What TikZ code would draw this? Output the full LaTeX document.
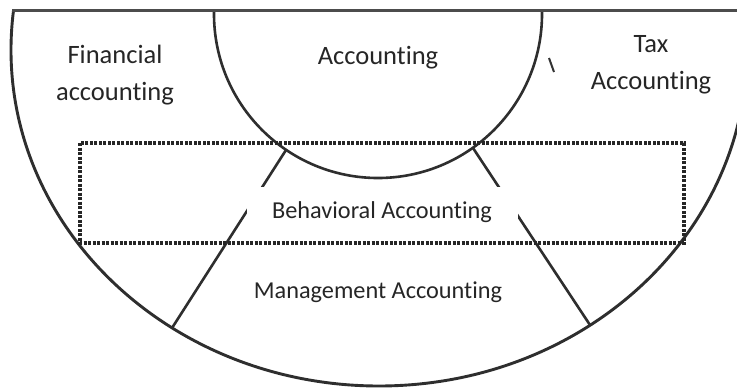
\documentclass[tikz,border=0pt]{standalone}
\usepackage{fontspec}
\setmainfont{Carlito}[Ligatures=NoCommon]
\begin{document}
\begin{tikzpicture}[x=1pt,y=-1pt,
  edge/.style={draw=black!82,line width=2.6pt},
  dotbox/.style={draw=black!85,line width=3.4pt,dash pattern=on 3pt off 1.5pt},
  lbl/.style={text=black!85,font=\fontsize{26.5}{37}\selectfont,align=center,inner sep=0pt},
  lbls/.style={lbl,font=\fontsize{24.3}{30}\selectfont},
  cover/.style={fill=white,draw=none,minimum width=271pt,minimum height=51pt,inner sep=0pt}]
\useasboundingbox[fill=white] (0,0) rectangle (737,389);
% outer half ellipse and inner half circle
\begin{scope}
  \clip (0,10) rectangle (737,389);
  \draw[edge,line width=2.9pt] (379,50) ellipse [x radius=368, y radius=336];
  \draw[edge] (378,14) circle [radius=164];
\end{scope}
% top edge
\coordinate (tl) at (12,10);
\coordinate (tr) at (737,10);
\draw[draw=black!70,line width=3pt] (tl) -- (tr);
% radial lines
\coordinate (l1a) at (286,150);
\coordinate (l1b) at (172,328);
\coordinate (l2a) at (473,148);
\coordinate (l2b) at (590,325);
\draw[edge] (l1a) -- (l1b);
\draw[edge] (l2a) -- (l2b);
% stray mark
\coordinate (sm1) at (549,58);
\coordinate (sm2) at (554,72);
\draw[draw=black!80,line width=2pt] (sm1) -- (sm2);
% dotted rectangle
\coordinate (r1) at (80,143);
\coordinate (r2) at (684,243);
\draw[dotbox] (r1) rectangle (r2);
% labels
\node[lbl] (fin) at (115,75.5) {Financial\\accounting};
\node[lbl] (acc) at (378,58) {Accounting};
\node[lbl] (tax) at (651,64.5) {Tax\\Accounting};
\node[cover] (behbox) at (382.5,212.5) {};
\node[lbls] (beh) at (382,212) {Behavioral Accounting};
\node[lbls] (man) at (378,292) {Management Accounting};
\end{tikzpicture}
\end{document}
